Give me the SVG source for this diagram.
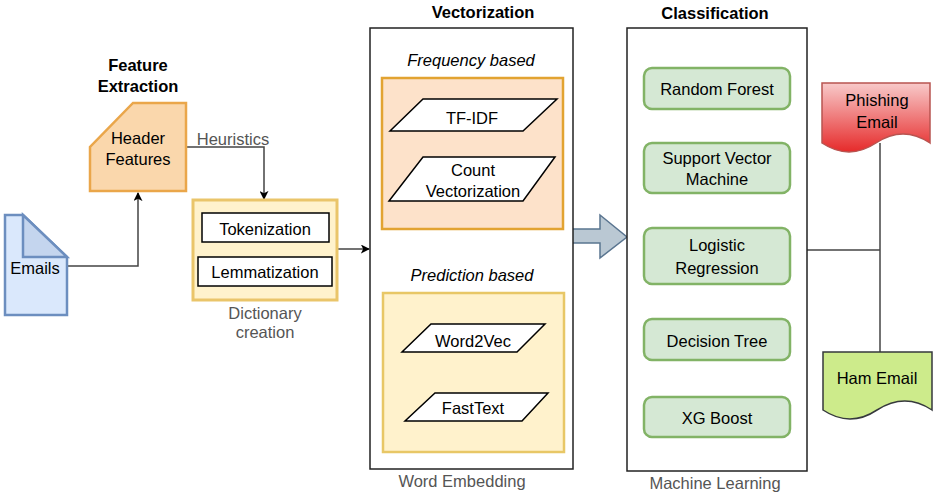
<svg xmlns="http://www.w3.org/2000/svg" width="935" height="496" viewBox="0 0 935 496">
<defs>
<marker id="arr" viewBox="0 0 10 10" refX="9" refY="5" markerWidth="9" markerHeight="9" markerUnits="userSpaceOnUse" orient="auto">
<path d="M0,0 L10,5 L0,10 L2.5,5 Z" fill="#000"/>
</marker>
<linearGradient id="red" x1="0" y1="0" x2="0" y2="1">
<stop offset="0" stop-color="#f8caca"/>
<stop offset="1" stop-color="#e62a2a"/>
</linearGradient>
<style>
text{font-family:"Liberation Sans",Arial,sans-serif;font-size:16.5px;fill:#000;text-anchor:middle}
.b{font-weight:bold}
.i{font-style:italic}
.g{fill:#555}
.para{fill:#fff;stroke:#000;stroke-width:1.5}
.green{fill:#d5e8d4;stroke:#82b366;stroke-width:2.5}
.frame{fill:#fff;stroke:#222;stroke-width:1.5}
.wire{fill:none;stroke:#444;stroke-width:1.5}
</style>
</defs>
<rect width="935" height="496" fill="#fff"/>

<g id="connectors">
<path class="wire" d="M67,266 H138 V193" marker-end="url(#arr)"/>
<path class="wire" d="M186,147 H264 V199" marker-end="url(#arr)"/>
<path class="wire" d="M337,249 H369" marker-end="url(#arr)"/>
<polygon points="572,229 600,229 600,215 627,237 600,258 600,243 572,243" fill="#bac8d3" stroke="#5a7590" stroke-width="1.5"/>
<path class="wire" d="M807,250 H880"/>
<path class="wire" d="M880,143 V352"/>
</g>

<g id="emails">
<path d="M5,215 H23 L67,257 V315 H5 Z" fill="#dae8fc" stroke="#6c8ebf" stroke-width="2.5"/>
<path d="M23,215 V257 H67 Z" fill="#c4d5ee" stroke="#6c8ebf" stroke-width="2.5"/>
<text x="35" y="274">Emails</text>
</g>

<g id="feature-extraction">
<text class="b" x="138" y="71">Feature</text>
<text class="b" x="138" y="92">Extraction</text>
<path d="M133,103 H186 V191 H90 V147 Z" fill="#fad7ac" stroke="#eaa64a" stroke-width="2.5"/>
<text x="138" y="144">Header</text>
<text x="138" y="165">Features</text>
</g>

<g id="heuristics-label">
<text class="g" x="233" y="145">Heuristics</text>
</g>

<g id="dictionary">
<rect x="193" y="200" width="144" height="100" fill="#fff2cc" stroke="#eac56a" stroke-width="3"/>
<rect x="202" y="213" width="127" height="29" fill="#fff" stroke="#000" stroke-width="1.5"/>
<text x="265" y="235">Tokenization</text>
<rect x="198" y="257" width="134" height="29" fill="#fff" stroke="#000" stroke-width="1.5"/>
<text x="265" y="278">Lemmatization</text>
<text class="g" x="265" y="319">Dictionary</text>
<text class="g" x="265" y="338">creation</text>
</g>

<g id="vectorization">
<text class="b" x="483" y="18">Vectorization</text>
<rect class="frame" x="370" y="28" width="203" height="441"/>
<text class="i" x="471" y="66">Frequency based</text>
<rect x="382" y="78" width="181" height="151" fill="#fde2ca" stroke="#e2a331" stroke-width="2.5"/>
<polygon class="para" points="423,99 557,99 523,131 390,131"/>
<text x="472" y="124">TF-IDF</text>
<polygon class="para" points="423,157 555,157 523,201 389,201"/>
<text x="473" y="176">Count</text>
<text x="473" y="197">Vectorization</text>
<text class="i" x="472" y="281">Prediction based</text>
<rect x="383" y="293" width="181" height="159" fill="#fff2cc" stroke="#e8c766" stroke-width="2.5"/>
<polygon class="para" points="431,324 545,324 517,352 402,352"/>
<text x="473" y="347">Word2Vec</text>
<polygon class="para" points="435,393 548,393 522,421 405,421"/>
<text x="473" y="414">FastText</text>
<text class="g" x="462" y="487">Word Embedding</text>
</g>

<g id="classification">
<text class="b" x="715" y="19">Classification</text>
<rect class="frame" x="627" y="28" width="180" height="443"/>
<rect class="green" x="644" y="68" width="146" height="41" rx="8"/>
<text x="717" y="95">Random Forest</text>
<rect class="green" x="644" y="143" width="146" height="50" rx="8"/>
<text x="717" y="164">Support Vector</text>
<text x="717" y="185">Machine</text>
<rect class="green" x="644" y="228" width="146" height="56" rx="8"/>
<text x="717" y="251">Logistic</text>
<text x="717" y="274">Regression</text>
<rect class="green" x="644" y="319" width="146" height="41" rx="8"/>
<text x="717" y="347">Decision Tree</text>
<rect class="green" x="644" y="397" width="146" height="40" rx="8"/>
<text x="717" y="424">XG Boost</text>
<text class="g" x="715" y="489">Machine Learning</text>
</g>

<g id="phishing-email">
<path d="M822,83 H930 V143 Q903,125 876,143 Q849,161 822,143 Z" fill="url(#red)" stroke="#b85450" stroke-width="1.5"/>
<text x="877" y="106">Phishing</text>
<text x="877" y="128">Email</text>
</g>

<g id="ham-email">
<path d="M823,352 H932 V410 Q905,392 877,410 Q850,428 823,410 Z" fill="#cdeb8b" stroke="#36393d" stroke-width="1.5"/>
<text x="877" y="384">Ham Email</text>
</g>
</svg>
